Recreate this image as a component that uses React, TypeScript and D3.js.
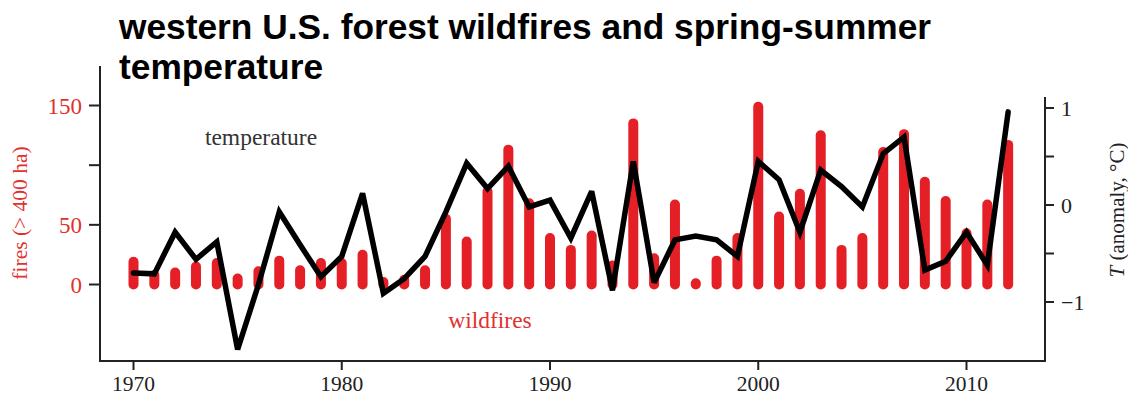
import React from "react";
import * as d3 from "d3";

// Western U.S. forest wildfires (count of fires > 400 ha) and spring-summer temperature anomaly
const years = [
  1970, 1971, 1972, 1973, 1974, 1975, 1976, 1977, 1978, 1979,
  1980, 1981, 1982, 1983, 1984, 1985, 1986, 1987, 1988, 1989,
  1990, 1991, 1992, 1993, 1994, 1995, 1996, 1997, 1998, 1999,
  2000, 2001, 2002, 2003, 2004, 2005, 2006, 2007, 2008, 2009,
  2010, 2011, 2012,
];

const fires = [
  19, 8, 10, 15, 18, 5, 11, 20, 12, 18,
  18, 25, 2, 4, 12, 55, 36, 78, 113, 68,
  39, 29, 41, 16, 135, 22, 67, 1, 20, 39,
  149, 57, 76, 125, 29, 39, 111, 126, 86, 70,
  43, 67, 117,
];

const temperature = [
  -0.7, -0.71, -0.28, -0.56, -0.38, -1.49, -0.82, -0.07, -0.41, -0.74,
  -0.53, 0.12, -0.91, -0.76, -0.53, -0.07, 0.43, 0.17, 0.4, -0.02,
  0.05, -0.34, 0.14, -0.88, 0.45, -0.8, -0.36, -0.32, -0.36, -0.53,
  0.45, 0.26, -0.28, 0.36, 0.19, -0.02, 0.53, 0.7, -0.67, -0.58,
  -0.28, -0.62, 0.96,
];

const xTicks = [1970, 1980, 1990, 2000, 2010];
const fireTicks = [0, 50, 100, 150];
const fireTickLabels = [0, 50, 150];
const tempTicks = [-1, -0.5, 0, 0.5, 1];
const tempTickLabels = [-1, 0, 1];

const titleLines = ["western U.S. forest wildfires and spring-summer", "temperature"];

const W = 1128;
const H = 397;
const RED = "#e41f26";
const RED_TEXT = "#e2302f";
const INK = "#222";
const SERIF = "'Liberation Serif', 'Times New Roman', serif";

export default function App() {
  const x = d3.scaleLinear().domain([1970, 2010]).range([133.5, 966.5]);
  const yFire = d3.scaleLinear().domain([0, 150]).range([284.5, 105.5]);
  const yTemp = d3.scaleLinear().domain([-1, 1]).range([302, 108]);

  const axisLeft = 100;
  const axisRight = 1045;
  const axisBottom = 361;

  const line = d3
    .line<number>()
    .x((_, i) => x(years[i]))
    .y((d) => yTemp(d));

  const fmt = (v: number) => (v < 0 ? "\u2212" + Math.abs(v) : String(v));

  return (
    <svg
      width={W}
      height={H}
      style={{ position: "absolute", left: 0, top: 0, background: "#fff" }}
    >
      <rect width={W} height={H} fill="#fff" />

      {/* title */}
      <g fontFamily="'Liberation Sans', Arial, sans-serif" fontWeight="bold" fontSize={35.3} fill="#000">
        {titleLines.map((t, i) => (
          <text key={i} x={119} y={39 + i * 39.5}>
            {t}
          </text>
        ))}
      </g>

      {/* fire bars */}
      <g stroke={RED} strokeWidth={10} strokeLinecap="round">
        {fires.map((v, i) => (
          <line
            key={years[i]}
            x1={x(years[i])}
            x2={x(years[i])}
            y1={yFire(0)}
            y2={yFire(v)}
          />
        ))}
      </g>

      {/* temperature line */}
      <path
        d={line(temperature) || ""}
        fill="none"
        stroke="#000"
        strokeWidth={5.5}
        strokeLinejoin="miter"
        strokeMiterlimit={3}
        strokeLinecap="round"
      />

      {/* axes frame */}
      <g stroke={INK} strokeWidth={2} fill="none">
        <line x1={axisLeft} x2={axisLeft} y1={66} y2={axisBottom + 1} />
        <line x1={axisRight} x2={axisRight} y1={97} y2={axisBottom + 1} />
        <line x1={axisLeft - 1} x2={axisRight + 1} y1={axisBottom} y2={axisBottom} />
        {xTicks.map((t) => (
          <line key={t} x1={x(t)} x2={x(t)} y1={axisBottom} y2={axisBottom + 9} />
        ))}
        {fireTicks.map((t) => (
          <line key={t} x1={axisLeft - 11} x2={axisLeft} y1={yFire(t)} y2={yFire(t)} />
        ))}
        {tempTicks.map((t) => (
          <line key={t} x1={axisRight} x2={axisRight + 9} y1={yTemp(t)} y2={yTemp(t)} />
        ))}
      </g>

      {/* tick labels */}
      <g fontFamily={SERIF}>
        {xTicks.map((t) => (
          <text key={t} x={x(t)} y={391} textAnchor="middle" fill={INK} fontSize={21.5}>
            {t}
          </text>
        ))}
        {fireTickLabels.map((t) => (
          <text key={t} x={82} y={yFire(t) + 8} textAnchor="end" fill={RED_TEXT} fontSize={23}>
            {t}
          </text>
        ))}
        {tempTickLabels.map((t) => (
          <text key={t} x={1061} y={yTemp(t) + 8} textAnchor="start" fill={INK} fontSize={22}>
            {fmt(t)}
          </text>
        ))}
      </g>

      {/* axis titles */}
      <text
        transform="translate(27,213) rotate(-90)"
        textAnchor="middle"
        fontFamily={SERIF}
        fontSize={21.5}
        fill={RED_TEXT}
      >
        fires (&gt; 400 ha)
      </text>
      <text
        transform="translate(1124,210) rotate(-90)"
        textAnchor="middle"
        fontFamily={SERIF}
        fontSize={21}
        fill={INK}
      >
        <tspan fontStyle="italic">T</tspan> (anomaly, °C)
      </text>

      {/* series labels */}
      <text x={261} y={145} textAnchor="middle" fontFamily={SERIF} fontSize={23.5} fill="#333">
        temperature
      </text>
      <text x={490} y={328} textAnchor="middle" fontFamily={SERIF} fontSize={23.5} fill={RED_TEXT}>
        wildfires
      </text>
    </svg>
  );
}
